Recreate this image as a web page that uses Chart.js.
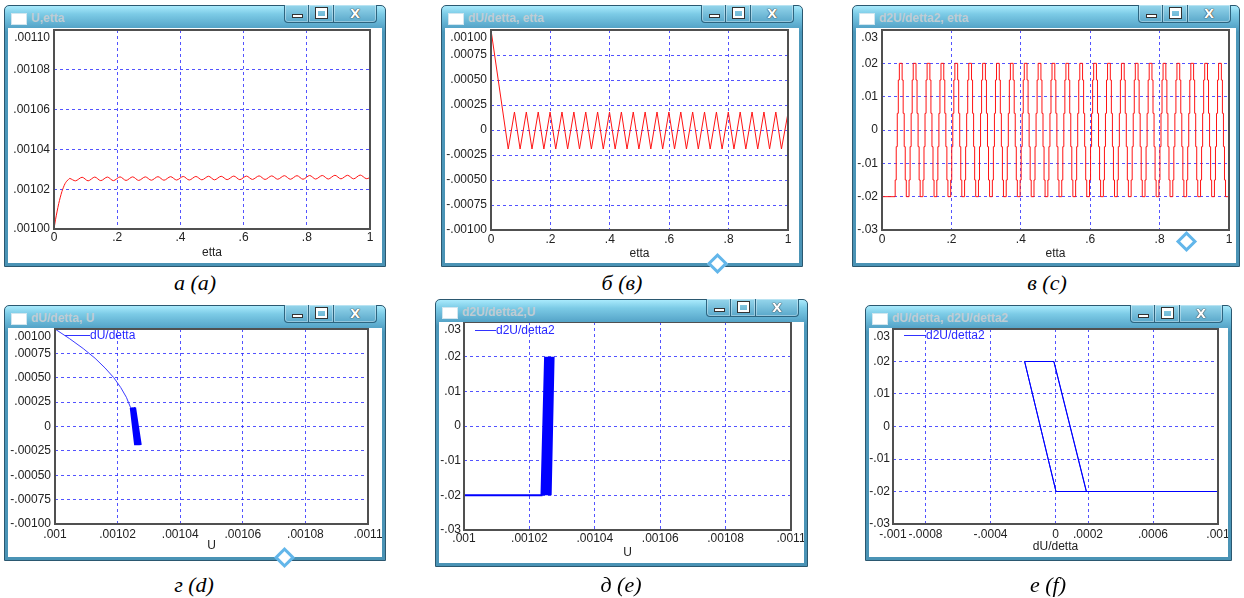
<!DOCTYPE html>
<html>
<head>
<meta charset="utf-8">
<title>U, dU/detta, d2U/detta2</title>
<script src="https://cdn.jsdelivr.net/npm/chart.js@4.4.1/dist/chart.umd.min.js"></script>
<style>
  html, body { margin: 0; padding: 0; background: #fff; }
  body { position: relative; width: 1244px; height: 598px; overflow: hidden; }
  .win { position: absolute; box-sizing: border-box; border: 1px solid #2b5870; border-radius: 5px 5px 0 0;
    background: linear-gradient(#a9eafc 0px, #7ccbe6 8px, #5aa9cc 20px, #4c98bb 26px, #4a93b5 100%); }
  .client { position: absolute; left: 3px; right: 3px; top: 22px; bottom: 3px; background: #fff; }
  .client canvas { display: block; }
  .ico { position: absolute; left: 6px; top: 7px; width: 14px; height: 10px; background: #fff; border: 1px solid #d2e6ef; }
  .ttl { position: absolute; left: 26px; top: 5px; font: bold 12px "Liberation Sans", Arial, sans-serif; color: #bfccd3; white-space: nowrap; }
  .btns { position: absolute; right: 8px; top: -1px; display: flex; }
  .btn { position: relative; box-sizing: border-box; height: 18px; border: 1px solid #2d6580; border-top: 0; margin-left: -1px;
    background: linear-gradient(#95d6ec, #5aa8ca); box-shadow: inset 0 0 0 1px rgba(255,255,255,0.35); }
  .btn.min { width: 25px; border-bottom-left-radius: 4px; }
  .btn.max { width: 26px; }
  .btn.cls { width: 44px; border-bottom-right-radius: 4px; text-align: center; font: bold 13px/17px "DejaVu Sans", sans-serif; color: #fff; text-shadow: 0 0 1px #222, 0 0 1px #222; }
  .btn.min::after { content: ""; position: absolute; left: 7px; top: 9px; width: 9px; height: 2px; background: #fff; border: 1px solid #333; }
  .btn.max::after { content: ""; position: absolute; left: 7px; top: 3px; width: 7px; height: 5px; border: 2px solid #fff; border-top-width: 3px; outline: 1px solid #333; }
  .cap { position: absolute; width: 200px; text-align: center; font: italic 400 22px/26px "Liberation Serif", "Times New Roman", serif; color: #000; }
  .cur { position: absolute; width: 9px; height: 9px; transform: rotate(45deg); border: 3px solid #62b6ea; background: #fff; }
</style>
</head>
<body>
<script>

// U(etta)
const uEtta = [0, 0.005, 0.01, 0.015, 0.02, 0.025, 0.03, 0.035, 0.04, 0.045, 0.05,
  0.068, 0.089, 0.108, 0.129, 0.148, 0.169, 0.188, 0.209, 0.228, 0.249,
  0.268, 0.289, 0.308, 0.329, 0.348, 0.369, 0.388, 0.409, 0.428, 0.449,
  0.468, 0.489, 0.508, 0.529, 0.548, 0.569, 0.588, 0.609, 0.628, 0.649,
  0.668, 0.689, 0.708, 0.729, 0.748, 0.769, 0.788, 0.809, 0.828, 0.849,
  0.868, 0.889, 0.908, 0.929, 0.948, 0.969, 0.988, 1];
const uVal = [0.0010000, 0.0010049, 0.0010090, 0.0010128, 0.0010160, 0.0010188, 0.0010210, 0.0010228, 0.0010240, 0.0010248, 0.0010254,
  0.0010242, 0.0010260, 0.0010242, 0.0010261, 0.0010243, 0.0010261, 0.0010243, 0.0010262, 0.0010244, 0.0010262,
  0.0010244, 0.0010262, 0.0010245, 0.0010263, 0.0010245, 0.0010263, 0.0010246, 0.0010264, 0.0010246, 0.0010264,
  0.0010247, 0.0010265, 0.0010247, 0.0010265, 0.0010248, 0.0010266, 0.0010248, 0.0010266, 0.0010249, 0.0010267,
  0.0010249, 0.0010267, 0.0010250, 0.0010268, 0.0010250, 0.0010268, 0.0010250, 0.0010269, 0.0010251, 0.0010269,
  0.0010251, 0.0010270, 0.0010252, 0.0010270, 0.0010252, 0.0010271, 0.0010253, 0.0010258];

// dU/detta(etta)
const duEtta = [0, 0.058, 0.079, 0.098, 0.119, 0.138, 0.159, 0.178, 0.199, 0.218, 0.239,
  0.258, 0.279, 0.298, 0.319, 0.338, 0.359, 0.378, 0.399, 0.418, 0.439,
  0.458, 0.479, 0.498, 0.519, 0.538, 0.559, 0.578, 0.599, 0.618, 0.639,
  0.658, 0.679, 0.698, 0.719, 0.738, 0.759, 0.778, 0.799, 0.818, 0.839,
  0.858, 0.879, 0.898, 0.919, 0.938, 0.959, 0.978, 1];
const duVal = [0.00100, -0.00019, 0.00018, -0.00019, 0.00018, -0.00019, 0.00018, -0.00019, 0.00018, -0.00019, 0.00018,
  -0.00019, 0.00018, -0.00019, 0.00018, -0.00019, 0.00018, -0.00019, 0.00018, -0.00019, 0.00018,
  -0.00019, 0.00018, -0.00019, 0.00018, -0.00019, 0.00018, -0.00019, 0.00018, -0.00019, 0.00018,
  -0.00019, 0.00018, -0.00019, 0.00018, -0.00019, 0.00018, -0.00019, 0.00018, -0.00019, 0.00018,
  -0.00019, 0.00018, -0.00019, 0.00018, -0.00019, 0.00018, -0.00019, 0.00017];

// d2U/detta2(etta), one row per pulse
const d2Etta = [0,
  0.038, 0.041, 0.044, 0.047, 0.050, 0.058, 0.061, 0.064, 0.067, 0.070,
  0.078, 0.081, 0.084, 0.087, 0.090, 0.098, 0.101, 0.104, 0.107, 0.110,
  0.118, 0.121, 0.124, 0.127, 0.130, 0.138, 0.141, 0.144, 0.147, 0.150,
  0.158, 0.161, 0.164, 0.167, 0.170, 0.178, 0.181, 0.184, 0.187, 0.190,
  0.198, 0.201, 0.204, 0.207, 0.210, 0.218, 0.221, 0.224, 0.227, 0.230,
  0.238, 0.241, 0.244, 0.247, 0.250, 0.258, 0.261, 0.264, 0.267, 0.270,
  0.278, 0.281, 0.284, 0.287, 0.290, 0.298, 0.301, 0.304, 0.307, 0.310,
  0.318, 0.321, 0.324, 0.327, 0.330, 0.338, 0.341, 0.344, 0.347, 0.350,
  0.358, 0.361, 0.364, 0.367, 0.370, 0.378, 0.381, 0.384, 0.387, 0.390,
  0.398, 0.401, 0.404, 0.407, 0.410, 0.418, 0.421, 0.424, 0.427, 0.430,
  0.438, 0.441, 0.444, 0.447, 0.450, 0.458, 0.461, 0.464, 0.467, 0.470,
  0.478, 0.481, 0.484, 0.487, 0.490, 0.498, 0.501, 0.504, 0.507, 0.510,
  0.518, 0.521, 0.524, 0.527, 0.530, 0.538, 0.541, 0.544, 0.547, 0.550,
  0.558, 0.561, 0.564, 0.567, 0.570, 0.578, 0.581, 0.584, 0.587, 0.590,
  0.598, 0.601, 0.604, 0.607, 0.610, 0.618, 0.621, 0.624, 0.627, 0.630,
  0.638, 0.641, 0.644, 0.647, 0.650, 0.658, 0.661, 0.664, 0.667, 0.670,
  0.678, 0.681, 0.684, 0.687, 0.690, 0.698, 0.701, 0.704, 0.707, 0.710,
  0.718, 0.721, 0.724, 0.727, 0.730, 0.738, 0.741, 0.744, 0.747, 0.750,
  0.758, 0.761, 0.764, 0.767, 0.770, 0.778, 0.781, 0.784, 0.787, 0.790,
  0.798, 0.801, 0.804, 0.807, 0.810, 0.818, 0.821, 0.824, 0.827, 0.830,
  0.838, 0.841, 0.844, 0.847, 0.850, 0.858, 0.861, 0.864, 0.867, 0.870,
  0.878, 0.881, 0.884, 0.887, 0.890, 0.898, 0.901, 0.904, 0.907, 0.910,
  0.918, 0.921, 0.924, 0.927, 0.930, 0.938, 0.941, 0.944, 0.947, 0.950,
  0.958, 0.961, 0.964, 0.967, 0.970, 0.978, 0.981, 0.984, 0.987, 0.990,
  1];
const d2Val = [-0.02,
  -0.015, -0.005, 0.005, 0.015, 0.02, 0.015, 0.005, -0.005, -0.015, -0.02,
  -0.015, -0.005, 0.005, 0.015, 0.02, 0.015, 0.005, -0.005, -0.015, -0.02,
  -0.015, -0.005, 0.005, 0.015, 0.02, 0.015, 0.005, -0.005, -0.015, -0.02,
  -0.015, -0.005, 0.005, 0.015, 0.02, 0.015, 0.005, -0.005, -0.015, -0.02,
  -0.015, -0.005, 0.005, 0.015, 0.02, 0.015, 0.005, -0.005, -0.015, -0.02,
  -0.015, -0.005, 0.005, 0.015, 0.02, 0.015, 0.005, -0.005, -0.015, -0.02,
  -0.015, -0.005, 0.005, 0.015, 0.02, 0.015, 0.005, -0.005, -0.015, -0.02,
  -0.015, -0.005, 0.005, 0.015, 0.02, 0.015, 0.005, -0.005, -0.015, -0.02,
  -0.015, -0.005, 0.005, 0.015, 0.02, 0.015, 0.005, -0.005, -0.015, -0.02,
  -0.015, -0.005, 0.005, 0.015, 0.02, 0.015, 0.005, -0.005, -0.015, -0.02,
  -0.015, -0.005, 0.005, 0.015, 0.02, 0.015, 0.005, -0.005, -0.015, -0.02,
  -0.015, -0.005, 0.005, 0.015, 0.02, 0.015, 0.005, -0.005, -0.015, -0.02,
  -0.015, -0.005, 0.005, 0.015, 0.02, 0.015, 0.005, -0.005, -0.015, -0.02,
  -0.015, -0.005, 0.005, 0.015, 0.02, 0.015, 0.005, -0.005, -0.015, -0.02,
  -0.015, -0.005, 0.005, 0.015, 0.02, 0.015, 0.005, -0.005, -0.015, -0.02,
  -0.015, -0.005, 0.005, 0.015, 0.02, 0.015, 0.005, -0.005, -0.015, -0.02,
  -0.015, -0.005, 0.005, 0.015, 0.02, 0.015, 0.005, -0.005, -0.015, -0.02,
  -0.015, -0.005, 0.005, 0.015, 0.02, 0.015, 0.005, -0.005, -0.015, -0.02,
  -0.015, -0.005, 0.005, 0.015, 0.02, 0.015, 0.005, -0.005, -0.015, -0.02,
  -0.015, -0.005, 0.005, 0.015, 0.02, 0.015, 0.005, -0.005, -0.015, -0.02,
  -0.015, -0.005, 0.005, 0.015, 0.02, 0.015, 0.005, -0.005, -0.015, -0.02,
  -0.015, -0.005, 0.005, 0.015, 0.02, 0.015, 0.005, -0.005, -0.015, -0.02,
  -0.015, -0.005, 0.005, 0.015, 0.02, 0.015, 0.005, -0.005, -0.015, -0.02,
  -0.015, -0.005, 0.005, 0.015, 0.02, 0.015, 0.005, -0.005, -0.015, -0.02,
  -0.02];

// dU/detta vs U : start-up curve, then the oscillation band
const gCurveU = [0.0010000, 0.0010047, 0.0010090, 0.0010128, 0.0010160, 0.0010188, 0.0010210, 0.0010228, 0.0010242];
const gCurveDu = [0.00100, 0.00090, 0.00080, 0.00070, 0.00060, 0.00050, 0.00040, 0.00030, 0.00019];
const gBandU = [0.0010242, 0.0010256, 0.00102433, 0.00102576, 0.00102445, 0.00102593, 0.00102458, 0.00102609,
  0.0010247, 0.00102625, 0.00102483, 0.00102642, 0.00102495, 0.00102658, 0.00102508, 0.00102675,
  0.0010252, 0.00102691, 0.00102533, 0.00102707, 0.00102545, 0.00102724, 0.0010256, 0.0010274];
const gBandDu = [0.00019, -0.00019, 0.00019, -0.00019, 0.00019, -0.00019, 0.00019, -0.00019,
  0.00019, -0.00019, 0.00019, -0.00019, 0.00019, -0.00019, 0.00019, -0.00019,
  0.00019, -0.00019, 0.00019, -0.00019, 0.00019, -0.00019, 0.00019, -0.00019];

// d2U/detta2 vs U
const hU = [0.0010000, 0.0010237, 0.0010248, 0.00102395, 0.00102504, 0.00102421, 0.00102527, 0.00102446, 0.00102551,
  0.00102472, 0.00102575, 0.00102497, 0.00102598, 0.00102523, 0.00102622, 0.00102548, 0.00102645,
  0.00102574, 0.00102669, 0.00102599, 0.00102693, 0.00102625, 0.00102716, 0.0010265, 0.0010274];
const hD2 = [-0.02, -0.02, 0.02, -0.02, 0.02, -0.02, 0.02, -0.02, 0.02,
  -0.02, 0.02, -0.02, 0.02, -0.02, 0.02, -0.02, 0.02,
  -0.02, 0.02, -0.02, 0.02, -0.02, 0.02, -0.02, 0.02];

// d2U/detta2 vs dU/detta
const eDu = [0.001, 0.000003, -0.00019, -0.00001, 0.00019, 0.000003, -0.00019, -0.00001, 0.00019, 0.000003];
const eD2 = [-0.02, -0.02, 0.02, 0.02, -0.02, -0.02, 0.02, 0.02, -0.02, -0.02];

// tick values and labels
const ettaTicks = [0, 0.2, 0.4, 0.6, 0.8, 1];
const ettaLabels = ['0', '.2', '.4', '.6', '.8', '1'];
const uTicks = [0.001, 0.00102, 0.00104, 0.00106, 0.00108, 0.0011];
const uYLabels = ['.00100', '.00102', '.00104', '.00106', '.00108', '.00110'];
const uXLabels = ['.001', '.00102', '.00104', '.00106', '.00108', '.0011'];
const duTicks = [-0.001, -0.00075, -0.0005, -0.00025, 0, 0.00025, 0.0005, 0.00075, 0.001];
const duLabels = ['-.00100', '-.00075', '-.00050', '-.00025', '0', '.00025', '.00050', '.00075', '.00100'];
const d2Ticks = [-0.03, -0.02, -0.01, 0, 0.01, 0.02, 0.03];
const d2Labels = ['-.03', '-.02', '-.01', '0', '.01', '.02', '.03'];
const duXTicks = [-0.001, -0.0008, -0.0004, 0, 0.0002, 0.0006, 0.001];
const duXLabels = ['-.001', '-.0008', '-.0004', '0', '.0002', '.0006', '.001'];

// ---- drawing ----
const RED = 'rgb(255,20,20)';
const BLUE = 'rgb(0,0,255)';
const GRID = 'rgba(40,40,255,0.8)';
const FONT = '"Liberation Sans", Arial, sans-serif';
Chart.defaults.font.family = FONT;

function pts(xs, ys) {
  return xs.map((x, i) => ({ x: x, y: ys[i] }));
}

// box around the plot
const frame = {
  id: 'frame',
  afterDatasetsDraw(chart) {
    const { ctx, chartArea: a } = chart;
    ctx.save();
    ctx.strokeStyle = '#505050';
    ctx.lineWidth = 2;
    ctx.strokeRect(a.left, a.top, a.right - a.left, a.bottom - a.top);
    ctx.restore();
  }
};

// small legend sitting inside the plot, top left
const inLegend = {
  id: 'inLegend',
  afterDatasetsDraw(chart, args, opts) {
    if (!opts.show) return;
    const { ctx, chartArea: a } = chart;
    const x = a.left + opts.dx, y = Math.round(a.top + opts.dy) + 0.5;
    ctx.save();
    ctx.strokeStyle = 'rgb(50,50,255)';
    ctx.lineWidth = 1;
    ctx.beginPath();
    ctx.moveTo(x, y);
    ctx.lineTo(x + opts.len, y);
    ctx.stroke();
    ctx.fillStyle = 'rgb(40,40,255)';
    ctx.font = '12px ' + FONT;
    ctx.textBaseline = 'middle';
    ctx.fillText(chart.data.datasets[0].label, x + opts.len, y);
    ctx.restore();
  }
};

function scaleOpts(vals, labs, size, isX, pad, titleText, titlePad) {
  return {
    type: 'linear',
    min: vals[0],
    max: vals[vals.length - 1],
    afterBuildTicks: (s) => { s.ticks = vals.map((v) => ({ value: v })); },
    afterFit: (s) => {
      if (isX) s.height = size; else s.width = size;
      s.paddingLeft = 0; s.paddingRight = 0; s.paddingTop = 0; s.paddingBottom = 0;
    },
    grid: { color: GRID, lineWidth: 1, drawTicks: false },
    border: { display: false, dash: [3, 3] },
    ticks: {
      autoSkip: false, maxRotation: 0, minRotation: 0, padding: pad,
      color: '#222', font: { size: 12 },
      // top label of the y axis is pushed down inside the window, as in the original
      callback: (v, i) => (!isX && i === vals.length - 1) ? ['', labs[i]] : labs[i]
    },
    title: titleText
      ? { display: true, text: titleText, color: '#222', font: { size: 12 }, padding: { top: 0, bottom: titlePad } }
      : { display: false }
  };
}

const panels = [
  { win: [4, 5, 382, 262], plot: [54, 30, 316, 199], name: 'U,etta', cap: 'а (a)', capAt: [195, 283],
    x: [ettaTicks, ettaLabels, 'etta'], y: [uTicks, uYLabels], xPad: 1, yPad: 4, titlePad: 3,
    sets: [{ data: pts(uEtta, uVal), color: RED, width: 1, tension: 0.3 }] },
  { win: [441, 5, 362, 262], plot: [491, 30, 297, 200], name: 'dU/detta, etta', cap: 'б (в)', capAt: [622, 283],
    x: [ettaTicks, ettaLabels, 'etta'], y: [duTicks, duLabels], xPad: 2, yPad: 4, titlePad: 2,
    cursor: [710, 256],
    sets: [{ data: pts(duEtta, duVal), color: RED, width: 1 }] },
  { win: [852, 5, 388, 262], plot: [882, 30, 347, 200], name: 'd2U/detta2, etta', cap: 'в (c)', capAt: [1047, 283],
    x: [ettaTicks, ettaLabels, 'etta'], y: [d2Ticks, d2Labels], xPad: 2, yPad: 4, titlePad: 2,
    cursor: [1179, 234],
    sets: [{ data: pts(d2Etta, d2Val), color: RED, width: 1, stepped: true }] },
  { win: [4, 305, 382, 256], plot: [55, 329, 313, 195], name: 'dU/detta, U', cap: 'г (d)', capAt: [194, 585],
    x: [uTicks, uXLabels, 'U'], y: [duTicks, duLabels], xPad: 3, yPad: 4, titlePad: 4,
    cursor: [277, 550],
    legend: { show: true, dx: 10, dy: 6, len: 25 },
    sets: [{ label: 'dU/detta', data: pts(gCurveU, gCurveDu), color: 'rgb(60,60,255)', width: 1 },
           { data: pts(gBandU, gBandDu), color: BLUE, width: 2 }] },
  { win: [435, 299, 373, 268], plot: [464, 322, 327, 208], name: 'd2U/detta2,U', cap: 'д (e)', capAt: [621, 585],
    x: [uTicks, uXLabels, 'U'], y: [d2Ticks, d2Labels], xPad: 1, yPad: 3, titlePad: 3,
    legend: { show: true, dx: 11, dy: 8, len: 21 },
    sets: [{ label: 'd2U/detta2', data: pts(hU, hD2), color: BLUE, width: 2 }] },
  { win: [865, 305, 367, 256], plot: [893, 329, 325, 195], name: 'dU/detta, d2U/detta2', cap: 'е (f)', capAt: [1048, 585],
    x: [duXTicks, duXLabels, 'dU/detta'], y: [d2Ticks, d2Labels], xPad: 3, yPad: 3, titlePad: 3,
    legend: { show: true, dx: 11, dy: 6, len: 22 },
    sets: [{ label: 'd2U/detta2', data: pts(eDu, eD2), color: BLUE, width: 1 }] }
];

panels.forEach((p) => {
  const [L, T, W, H] = p.win;
  const [px, py, pw, ph] = p.plot;

  const win = document.createElement('div');
  win.className = 'win';
  Object.assign(win.style, { left: L + 'px', top: T + 'px', width: W + 'px', height: H + 'px' });
  win.innerHTML = '<span class="ico"></span><span class="ttl"></span>' +
    '<div class="btns"><span class="btn min"></span><span class="btn max"></span><span class="btn cls">X</span></div>' +
    '<div class="client"><canvas></canvas></div>';
  win.querySelector('.ttl').textContent = p.name;
  document.body.appendChild(win);

  const cap = document.createElement('div');
  cap.className = 'cap';
  cap.textContent = p.cap;
  cap.style.left = (p.capAt[0] - 100) + 'px';
  cap.style.top = (p.capAt[1] - 13) + 'px';
  document.body.appendChild(cap);

  // the mouse-move cursor caught in the screenshot
  if (p.cursor) {
    const cur = document.createElement('div');
    cur.className = 'cur';
    cur.style.left = p.cursor[0] + 'px';
    cur.style.top = p.cursor[1] + 'px';
    document.body.appendChild(cur);
  }

  // client area of the window
  const cx = L + 4, cy = T + 23, cw = W - 8, ch = H - 27;
  const canvas = win.querySelector('canvas');
  canvas.width = cw; canvas.height = ch;
  canvas.style.width = cw + 'px'; canvas.style.height = ch + 'px';

  new Chart(canvas, {
    type: 'scatter',
    data: {
      datasets: p.sets.map((s) => ({
        label: s.label || '', data: s.data, showLine: true,
        borderColor: s.color, borderWidth: s.width, pointRadius: 0,
        tension: s.tension || 0, stepped: s.stepped || false, fill: false
      }))
    },
    options: {
      responsive: false,
      animation: false,
      events: [],
      layout: { padding: { left: 0, bottom: 0, top: py - cy, right: cx + cw - (px + pw) } },
      scales: {
        x: scaleOpts(p.x[0], p.x[1], cy + ch - (py + ph), true, p.xPad, p.x[2], p.titlePad),
        y: scaleOpts(p.y[0], p.y[1], px - cx, false, p.yPad)
      },
      plugins: {
        legend: { display: false },
        tooltip: { enabled: false },
        inLegend: p.legend || { show: false }
      }
    },
    plugins: [frame, inLegend]
  });
});
</script>
</body>
</html>
